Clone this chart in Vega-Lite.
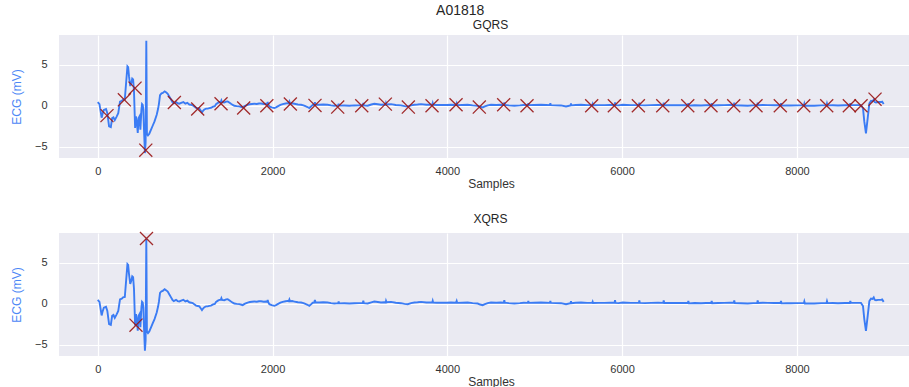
{
  "$schema": "https://vega.github.io/schema/vega-lite/v6.json",
  "padding": {"left": 10, "top": 4, "right": 0, "bottom": 0},
  "background": "white",
  "title": {"text": "A01818", "fontSize": 14, "font": "Liberation Sans", "color": "#262626", "fontWeight": "normal", "anchor": "middle", "offset": 1},
  "spacing": 24,
  "datasets": {
    "ecg": [
      {"s":0,"mv":0.44},{"s":20,"mv":0.2},{"s":45,"mv":-1.45},{"s":55,"mv":-1.0},{"s":70,"mv":-0.5},{"s":95,"mv":-0.4},{"s":110,"mv":-0.9},{"s":130,"mv":-2.5},{"s":150,"mv":-2.6},{"s":165,"mv":-1.5},{"s":180,"mv":-1.4},{"s":195,"mv":-1.75},{"s":215,"mv":-1.35},{"s":235,"mv":-0.9},{"s":255,"mv":0.5},{"s":275,"mv":0.6},{"s":290,"mv":0.75},{"s":310,"mv":0.8},{"s":325,"mv":2.8},{"s":340,"mv":4.8},{"s":348,"mv":4.7},{"s":358,"mv":3.6},{"s":372,"mv":2.4},{"s":385,"mv":2.8},{"s":395,"mv":3.3},{"s":405,"mv":3.2},{"s":415,"mv":1.8},{"s":428,"mv":-2.7},{"s":438,"mv":-1.3},{"s":448,"mv":-2.0},{"s":458,"mv":-3.3},{"s":468,"mv":-1.5},{"s":478,"mv":-1.3},{"s":488,"mv":-2.9},{"s":500,"mv":-0.5},{"s":507,"mv":0.2},{"s":515,"mv":0.1},{"s":522,"mv":-0.5},{"s":530,"mv":-3.0},{"s":540,"mv":-5.75},{"s":548,"mv":-4.5},{"s":556,"mv":7.9},{"s":563,"mv":-3.4},{"s":575,"mv":-3.6},{"s":590,"mv":-3.4},{"s":610,"mv":-2.9},{"s":630,"mv":-2.4},{"s":650,"mv":-1.9},{"s":675,"mv":-1.1},{"s":690,"mv":-0.4},{"s":700,"mv":0.2},{"s":713,"mv":1.3},{"s":730,"mv":1.5},{"s":745,"mv":1.55},{"s":766,"mv":1.75},{"s":785,"mv":1.6},{"s":801,"mv":1.45},{"s":820,"mv":1.1},{"s":839,"mv":0.75},{"s":855,"mv":0.45},{"s":870,"mv":0.3},{"s":896,"mv":0.45},{"s":915,"mv":0.3},{"s":934,"mv":0.25},{"s":955,"mv":0.35},{"s":980,"mv":0.45},{"s":1003,"mv":0.25},{"s":1025,"mv":0.35},{"s":1048,"mv":0.15},{"s":1070,"mv":0.1},{"s":1087,"mv":0.05},{"s":1105,"mv":-0.1},{"s":1125,"mv":-0.25},{"s":1145,"mv":-0.3},{"s":1163,"mv":-0.35},{"s":1180,"mv":-0.6},{"s":1193,"mv":-0.8},{"s":1210,"mv":-0.55},{"s":1220,"mv":-0.45},{"s":1240,"mv":-0.35},{"s":1258,"mv":-0.35},{"s":1277,"mv":-0.28},{"s":1296,"mv":-0.25},{"s":1320,"mv":-0.1},{"s":1340,"mv":-0.05},{"s":1354,"mv":0.2},{"s":1375,"mv":0.35},{"s":1392,"mv":0.45},{"s":1408,"mv":0.45},{"s":1415,"mv":0.65},{"s":1422,"mv":0.45},{"s":1449,"mv":0.4},{"s":1470,"mv":0.5},{"s":1487,"mv":0.53},{"s":1505,"mv":0.4},{"s":1525,"mv":0.24},{"s":1545,"mv":0.1},{"s":1563,"mv":0.0},{"s":1590,"mv":-0.05},{"s":1620,"mv":-0.08},{"s":1645,"mv":-0.15},{"s":1659,"mv":-0.2},{"s":1680,"mv":-0.05},{"s":1700,"mv":0.05},{"s":1716,"mv":0.12},{"s":1740,"mv":0.18},{"s":1765,"mv":0.22},{"s":1792,"mv":0.24},{"s":1820,"mv":0.22},{"s":1845,"mv":0.28},{"s":1868,"mv":0.28},{"s":1900,"mv":0.22},{"s":1926,"mv":0.24},{"s":1940,"mv":0.2},{"s":1945,"mv":0.45},{"s":1950,"mv":0.2},{"s":1964,"mv":-0.08},{"s":1990,"mv":-0.2},{"s":2021,"mv":-0.28},{"s":2040,"mv":-0.2},{"s":2059,"mv":-0.08},{"s":2090,"mv":0.1},{"s":2117,"mv":0.2},{"s":2150,"mv":0.28},{"s":2174,"mv":0.32},{"s":2185,"mv":0.28},{"s":2193,"mv":0.5},{"s":2200,"mv":0.28},{"s":2225,"mv":0.3},{"s":2250,"mv":0.24},{"s":2290,"mv":0.15},{"s":2326,"mv":0.12},{"s":2355,"mv":0.05},{"s":2383,"mv":-0.08},{"s":2400,"mv":-0.15},{"s":2421,"mv":-0.28},{"s":2440,"mv":-0.1},{"s":2460,"mv":0.1},{"s":2478,"mv":0.12},{"s":2485,"mv":0.42},{"s":2492,"mv":0.12},{"s":2536,"mv":0.12},{"s":2580,"mv":0.15},{"s":2631,"mv":0.12},{"s":2670,"mv":0.05},{"s":2707,"mv":0.0},{"s":2752,"mv":0.05},{"s":2757,"mv":0.25},{"s":2762,"mv":0.02},{"s":2822,"mv":0.04},{"s":2880,"mv":0.0},{"s":2936,"mv":0.04},{"s":2990,"mv":0.05},{"s":3033,"mv":0.08},{"s":3039,"mv":0.35},{"s":3045,"mv":0.05},{"s":3089,"mv":0.0},{"s":3130,"mv":0.15},{"s":3165,"mv":0.24},{"s":3205,"mv":0.18},{"s":3241,"mv":0.12},{"s":3280,"mv":0.15},{"s":3295,"mv":0.12},{"s":3299,"mv":0.32},{"s":3305,"mv":0.15},{"s":3356,"mv":0.2},{"s":3410,"mv":0.1},{"s":3470,"mv":0.04},{"s":3510,"mv":-0.05},{"s":3547,"mv":-0.08},{"s":3585,"mv":0.05},{"s":3623,"mv":0.12},{"s":3660,"mv":0.15},{"s":3699,"mv":0.2},{"s":3760,"mv":0.12},{"s":3828,"mv":0.12},{"s":3833,"mv":0.32},{"s":3838,"mv":0.12},{"s":3880,"mv":0.1},{"s":3928,"mv":0.1},{"s":3990,"mv":0.1},{"s":4042,"mv":0.12},{"s":4100,"mv":0.1},{"s":4107,"mv":0.3},{"s":4113,"mv":0.08},{"s":4170,"mv":0.1},{"s":4233,"mv":0.12},{"s":4290,"mv":0.05},{"s":4348,"mv":0.0},{"s":4375,"mv":-0.12},{"s":4405,"mv":-0.2},{"s":4430,"mv":-0.08},{"s":4462,"mv":0.05},{"s":4500,"mv":0.12},{"s":4560,"mv":0.1},{"s":4610,"mv":0.12},{"s":4647,"mv":0.1},{"s":4652,"mv":0.4},{"s":4658,"mv":0.1},{"s":4700,"mv":0.05},{"s":4767,"mv":0.0},{"s":4830,"mv":0.05},{"s":4875,"mv":0.1},{"s":4922,"mv":0.08},{"s":4927,"mv":0.3},{"s":4932,"mv":0.08},{"s":4990,"mv":0.1},{"s":5072,"mv":0.12},{"s":5130,"mv":0.1},{"s":5174,"mv":0.08},{"s":5179,"mv":0.3},{"s":5184,"mv":0.08},{"s":5240,"mv":0.05},{"s":5301,"mv":0.04},{"s":5358,"mv":-0.08},{"s":5410,"mv":0.05},{"s":5415,"mv":0.28},{"s":5420,"mv":0.05},{"s":5470,"mv":0.1},{"s":5530,"mv":0.12},{"s":5600,"mv":0.08},{"s":5658,"mv":0.08},{"s":5663,"mv":0.22},{"s":5668,"mv":0.06},{"s":5730,"mv":0.08},{"s":5800,"mv":0.08},{"s":5860,"mv":0.1},{"s":5914,"mv":0.1},{"s":5919,"mv":0.42},{"s":5925,"mv":0.08},{"s":5960,"mv":0.05},{"s":6007,"mv":0.12},{"s":6100,"mv":0.08},{"s":6192,"mv":0.08},{"s":6197,"mv":0.38},{"s":6203,"mv":0.08},{"s":6260,"mv":0.05},{"s":6331,"mv":0.08},{"s":6410,"mv":0.1},{"s":6471,"mv":0.08},{"s":6476,"mv":0.38},{"s":6482,"mv":0.06},{"s":6540,"mv":0.06},{"s":6598,"mv":0.08},{"s":6680,"mv":0.06},{"s":6753,"mv":0.06},{"s":6758,"mv":0.3},{"s":6764,"mv":0.02},{"s":6830,"mv":0.06},{"s":6903,"mv":0.04},{"s":6960,"mv":0.06},{"s":7020,"mv":0.06},{"s":7025,"mv":0.3},{"s":7031,"mv":0.04},{"s":7100,"mv":0.06},{"s":7169,"mv":0.08},{"s":7230,"mv":0.1},{"s":7278,"mv":0.1},{"s":7283,"mv":0.38},{"s":7289,"mv":0.06},{"s":7360,"mv":0.04},{"s":7437,"mv":0.0},{"s":7500,"mv":0.05},{"s":7546,"mv":0.08},{"s":7551,"mv":0.38},{"s":7557,"mv":0.06},{"s":7610,"mv":0.1},{"s":7666,"mv":0.08},{"s":7740,"mv":0.06},{"s":7813,"mv":0.06},{"s":7818,"mv":0.3},{"s":7824,"mv":0.02},{"s":7880,"mv":0.05},{"s":7932,"mv":0.04},{"s":8010,"mv":0.05},{"s":8080,"mv":0.05},{"s":8085,"mv":0.25},{"s":8091,"mv":0.0},{"s":8140,"mv":0.02},{"s":8199,"mv":0.0},{"s":8280,"mv":0.05},{"s":8339,"mv":0.06},{"s":8344,"mv":0.28},{"s":8350,"mv":0.05},{"s":8410,"mv":0.06},{"s":8470,"mv":0.04},{"s":8550,"mv":0.06},{"s":8606,"mv":0.06},{"s":8611,"mv":0.3},{"s":8617,"mv":0.08},{"s":8680,"mv":0.08},{"s":8733,"mv":0.08},{"s":8756,"mv":-0.3},{"s":8771,"mv":-1.9},{"s":8790,"mv":-3.35},{"s":8810,"mv":-1.5},{"s":8829,"mv":0.3},{"s":8848,"mv":0.6},{"s":8865,"mv":0.55},{"s":8879,"mv":0.75},{"s":8890,"mv":0.45},{"s":8905,"mv":0.4},{"s":8930,"mv":0.45},{"s":8962,"mv":0.45},{"s":8975,"mv":0.5},{"s":8993,"mv":0.2}
    ],
    "gqrs": [
      {"s":106,"mv":-1.2},{"s":305,"mv":0.72},{"s":427,"mv":2.14},{"s":550,"mv":-5.4},{"s":877,"mv":0.4},{"s":1144,"mv":-0.4},{"s":1411,"mv":0.24},{"s":1670,"mv":-0.28},{"s":1935,"mv":0.0},{"s":2204,"mv":0.22},{"s":2486,"mv":0.04},{"s":2746,"mv":-0.16},{"s":3021,"mv":0.0},{"s":3291,"mv":0.2},{"s":3554,"mv":-0.16},{"s":3825,"mv":0.0},{"s":4100,"mv":0.12},{"s":4366,"mv":-0.16},{"s":4645,"mv":0.12},{"s":4912,"mv":0.0},{"s":5652,"mv":0.0},{"s":5911,"mv":0.0},{"s":6186,"mv":0.0},{"s":6465,"mv":0.0},{"s":6751,"mv":0.0},{"s":7017,"mv":0.0},{"s":7277,"mv":0.0},{"s":7532,"mv":0.0},{"s":7810,"mv":0.0},{"s":8078,"mv":0.0},{"s":8341,"mv":0.0},{"s":8600,"mv":0.0},{"s":8734,"mv":0.0},{"s":8894,"mv":0.8}
    ],
    "xqrs": [
      {"s":438,"mv":-2.64},{"s":558,"mv":7.93}
    ]
  },
  "vconcat": [
    {
      "width": 851, "height": 123,
      "title": {"text": "GQRS", "dx": 6},
      "layer": [
        {"data": {"name": "ecg"}, "mark": {"type": "line", "color": "#3b7cf4", "strokeWidth": 1.9, "clip": true},
         "encoding": {
           "x": {"field": "s", "type": "quantitative", "title": "Samples", "scale": {"domain": [-443, 9294], "nice": false, "zero": false}, "axis": {"values": [0,2000,4000,6000,8000], "format": "d", "titleX": 432}},
           "y": {"field": "mv", "type": "quantitative", "title": "ECG (mV)", "scale": {"domain": [-6.35, 8.6], "nice": false, "zero": false}, "axis": {"values": [-5,0,5]}}
         }},
        {"data": {"name": "gqrs"}, "mark": {"type": "point", "shape": "M-1,-1L1,1M-1,1L1,-1", "filled": false, "stroke": "#9a1616", "strokeWidth": 1.3, "size": 170, "opacity": 0.9, "clip": true},
         "encoding": {
           "x": {"field": "s", "type": "quantitative"},
           "y": {"field": "mv", "type": "quantitative"}
         }}
      ]
    },
    {
      "width": 851, "height": 123,
      "title": {"text": "XQRS", "dx": 6},
      "layer": [
        {"data": {"name": "ecg"}, "mark": {"type": "line", "color": "#3b7cf4", "strokeWidth": 1.9, "clip": true},
         "encoding": {
           "x": {"field": "s", "type": "quantitative", "title": "Samples", "scale": {"domain": [-443, 9294], "nice": false, "zero": false}, "axis": {"values": [0,2000,4000,6000,8000], "format": "d", "titleX": 432}},
           "y": {"field": "mv", "type": "quantitative", "title": "ECG (mV)", "scale": {"domain": [-6.4, 8.6], "nice": false, "zero": false}, "axis": {"values": [-5,0,5]}}
         }},
        {"data": {"name": "xqrs"}, "mark": {"type": "point", "shape": "M-1,-1L1,1M-1,1L1,-1", "filled": false, "stroke": "#9a1616", "strokeWidth": 1.3, "size": 170, "opacity": 0.9},
         "encoding": {
           "x": {"field": "s", "type": "quantitative"},
           "y": {"field": "mv", "type": "quantitative"}
         }}
      ]
    }
  ],
  "config": {
    "view": {"fill": "#EAEAF2", "stroke": null},
    "title": {"font": "Liberation Sans", "fontSize": 12, "fontWeight": "normal", "color": "#262626", "offset": 3},
    "axis": {
      "grid": true, "gridColor": "#ffffff", "gridWidth": 1.2, "domain": false, "ticks": false, "tickSize": 0,
      "labelFont": "Liberation Sans", "labelFontSize": 11, "labelColor": "#333333",
      "titleFont": "Liberation Sans", "titleFontSize": 12, "titleFontWeight": "normal", "titleColor": "#333333"
    },
    "axisX": {"labelPadding": 7, "titlePadding": 2},
    "axisY": {"labelPadding": 12, "titlePadding": 11, "titleColor": "#4d87f6"}
  }
}
